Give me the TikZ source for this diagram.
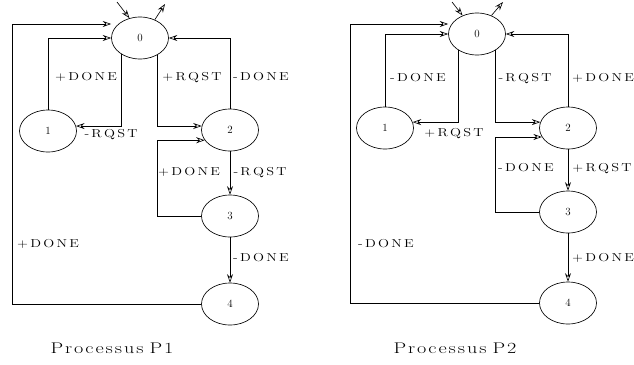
\documentclass[tikz,border=0pt]{standalone}
\usepackage{graphicx}
\usetikzlibrary{shapes.geometric,arrows.meta}
\newlength\lsamt
\makeatletter
\def\LS#1{\LS@#1\@nil}
\def\LS@#1#2\@nil{#1\if\relax\detokenize{#2}\relax\else\kern\lsamt\LS@#2\@nil\fi}
\makeatother
\newcommand\lab[1]{\scalebox{1.25}[1]{\setlength\lsamt{1.8pt}\LS{#1}}}
\newcommand\ttl[2]{\scalebox{1.3}[1]{\setlength\lsamt{1.5pt}\LS{#1}\ \LS{#2}}}
\begin{document}
\begin{tikzpicture}[x=1pt,y=-1pt,line width=0.65pt,
  >={Stealth[open,length=8.5pt,width=6pt,inset=2.8pt]},
  st/.style={ellipse,draw,minimum width=57pt,minimum height=42pt,inner sep=0pt,font=\fontsize{11}{13}\selectfont},
  lb/.style={anchor=base,inner sep=0pt,font=\fontsize{11.5}{13}\selectfont},
  tt/.style={anchor=base,inner sep=0pt,font=\fontsize{15.5}{18}\selectfont}]
\useasboundingbox (0,0) rectangle (634,364);
% ---------- Processus P1 ----------
\node[st] (L0) at (140,38) {0};
\node[st] (L1) at (48,131) {1};
\node[st] (L2) at (230,130) {2};
\node[st] (L3) at (230,216) {3};
\node[st] (L4) at (230,304) {4};
\coordinate (Lin) at (117,2);
\coordinate (Lout) at (165,4);
\coordinate (LC) at (12,24);
\draw[->] (Lin) -- (L0.118);
\draw[->] (L0.51) -- (Lout);
\draw[->] (L4.west) -| (LC) -- (L0.west |- LC);
\draw[->] (L1.north) |- (L0.west);
\draw[->] (L0.220) |- (L1.10);
\draw[->] (L0.315) |- (L2.172);
\draw[->] (L2.north) |- (L0.east);
\draw[->] (L3.west) -| (L0.315 |- L2.202) -- (L2.202);
\draw[->] (L2.south) -- (L3.north);
\draw[->] (L3.south) -- (L4.north);
\node[lb] (l1) at (86,80.5) {\lab{+DONE}};
\node[lb] (l2) at (111,137.5) {\lab{-RQST}};
\node[lb] (l3) at (192,80.5) {\lab{+RQST}};
\node[lb] (l4) at (261,80.5) {\lab{-DONE}};
\node[lb] (l5) at (189,175.5) {\lab{+DONE}};
\node[lb] (l6) at (260,175.5) {\lab{-RQST}};
\node[lb] (l7) at (48,247.5) {\lab{+DONE}};
\node[lb] (l8) at (261,261.5) {\lab{-DONE}};
\node[tt] (t1) at (112,353) {\ttl{Processus}{P1}};
% ---------- Processus P2 ----------
\node[st] (R0) at (477,34) {0};
\node[st] (R1) at (385,128) {1};
\node[st] (R2) at (568,128) {2};
\node[st] (R3) at (568,212) {3};
\node[st] (R4) at (568,303) {4};
\coordinate (Rin) at (452,2);
\coordinate (Rout) at (503,2);
\coordinate (RC) at (350,24);
\draw[->] (Rin) -- (R0.128);
\draw[->] (R0.52) -- (Rout);
\draw[->] (R4.west) -| (RC) -- (R0.west |- RC);
\draw[->] (R1.north) |- (R0.west);
\draw[->] (R0.220) |- (R1.12);
\draw[->] (R0.318) |- (R2.168);
\draw[->] (R2.north) |- (R0.east);
\draw[->] (R3.west) -| (R0.318 |- R2.199) -- (R2.199);
\draw[->] (R2.south) -- (R3.north);
\draw[->] (R3.south) -- (R4.north);
\node[lb] (r1) at (418,81.5) {\lab{-DONE}};
\node[lb] (r2) at (454,136.5) {\lab{+RQST}};
\node[lb] (r3) at (525,81.5) {\lab{-RQST}};
\node[lb] (r4) at (603,81.5) {\lab{+DONE}};
\node[lb] (r5) at (526,171.5) {\lab{-DONE}};
\node[lb] (r6) at (602,171.5) {\lab{+RQST}};
\node[lb] (r7) at (386,247.5) {\lab{-DONE}};
\node[lb] (r8) at (603,261.5) {\lab{+DONE}};
\node[tt] (t2) at (455,353) {\ttl{Processus}{P2}};
\end{tikzpicture}
\end{document}
